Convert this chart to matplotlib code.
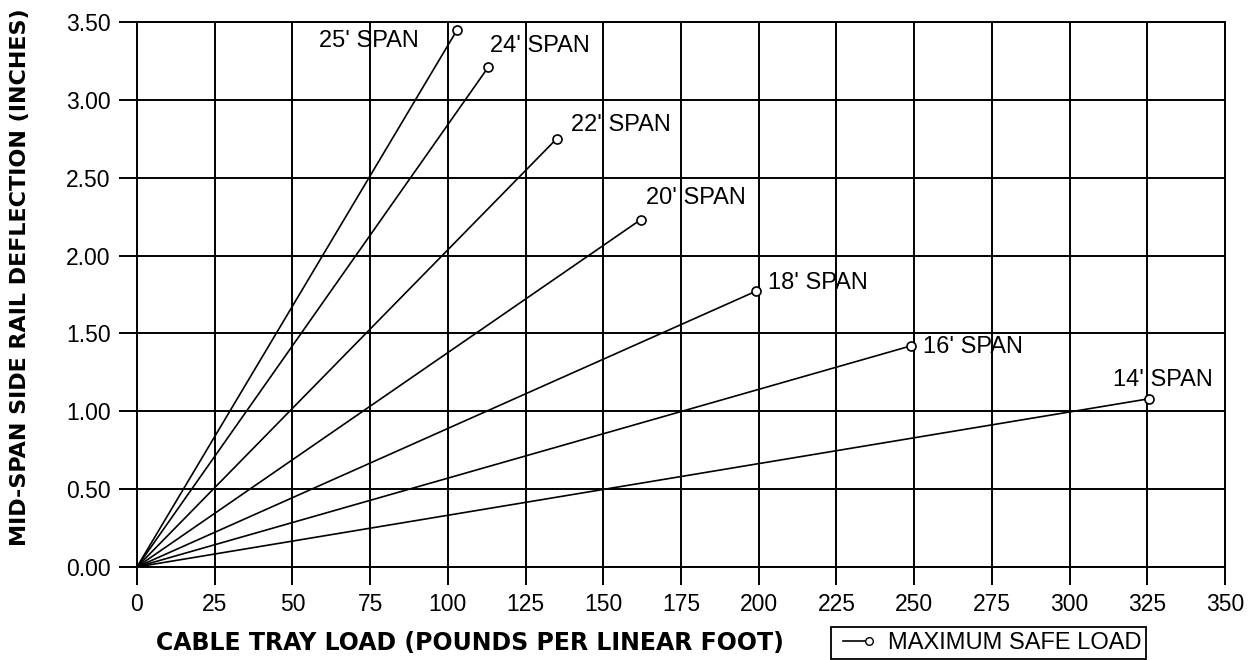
import matplotlib
matplotlib.use('Agg')
import matplotlib.pyplot as plt
from matplotlib.legend_handler import HandlerLine2D
import numpy as np

plt.rcParams['font.family'] = ['Liberation Sans', 'DejaVu Sans']

# end points of each span (maximum safe load)
spans = ["25' SPAN", "24' SPAN", "22' SPAN", "20' SPAN", "18' SPAN", "16' SPAN", "14' SPAN"]
max_load = [103, 113, 135, 162, 199, 249, 325.5]
deflection = [3.45, 3.21, 2.75, 2.23, 1.77, 1.42, 1.08]

x_ticks = np.arange(0, 351, 25)
y_ticks = np.arange(0, 3.51, 0.5)

# label offsets from the end point, in pixels, and alignment
label_off = [(-38, -11, 'right'), (2, 21, 'left'), (14, 14, 'left'), (5, 22, 'left'),
             (12, 8, 'left'), (12, -1, 'left'), (-36, 19, 'left')]


class EndMarker(HandlerLine2D):
    # marker only at the right end of the legend line
    def create_artists(self, *args, **kwargs):
        arts = super().create_artists(*args, **kwargs)
        for a in arts:
            a.set_markevery([1])
        return arts


def plot_chart():
    fig = plt.figure(figsize=(12.58, 6.6), dpi=100)
    ax = fig.add_axes([0.1089, 0.141, 0.8649, 0.8257])

    for name, xl, yl, (dx, dy, ha) in zip(spans, max_load, deflection, label_off):
        ax.plot([0, xl], [0, yl], color='black', lw=1.2, marker='o', markevery=[1],
                markersize=6.5, markerfacecolor='white', markeredgecolor='black',
                markeredgewidth=1.2, zorder=3)
        ax.annotate(name, (xl, yl), xytext=(dx, dy), textcoords='offset pixels',
                    ha=ha, va='center', fontsize=17, zorder=4)

    ax.set_xlim(0, 350)
    ax.set_ylim(0, 3.5)
    ax.set_xticks(x_ticks)
    ax.set_xticklabels([str(v) for v in x_ticks])
    ax.set_yticks(y_ticks)
    ax.set_yticklabels(['%.2f' % v for v in y_ticks])
    ax.tick_params(axis='both', direction='out', length=13, width=1.4, pad=6,
                   labelsize=16.5, color='black')
    ax.grid(True, color='black', lw=1.4)
    ax.set_axisbelow(True)
    for s in ax.spines.values():
        s.set_linewidth(1.4)

    fig.text(0.3736, 0.026, 'CABLE TRAY LOAD (POUNDS PER LINEAR FOOT)', ha='center', va='center',
             fontsize=17, fontweight='heavy', family='DejaVu Sans')
    fig.text(0.016, 0.58, 'MID-SPAN SIDE RAIL DEFLECTION (INCHES)', ha='center', va='center',
             rotation=90, fontsize=16, fontweight='heavy', family='DejaVu Sans')

    handle = plt.Line2D([0, 1], [0, 0], color='black', lw=1.2, marker='o',
                        markersize=5.5, markerfacecolor='white', markeredgecolor='black')
    leg = fig.legend([handle], ['MAXIMUM SAFE LOAD'], loc='center', bbox_to_anchor=(0.786, 0.026),
                     fontsize=17, numpoints=2, fancybox=False, framealpha=1, edgecolor='black',
                     borderpad=0.2, handlelength=1.7, handletextpad=0.5, borderaxespad=0,
                     handler_map={plt.Line2D: EndMarker()})
    leg.get_frame().set_linewidth(1.3)

    fig.savefig('out.png', dpi=100)


if __name__ == "__main__":
    plot_chart()
